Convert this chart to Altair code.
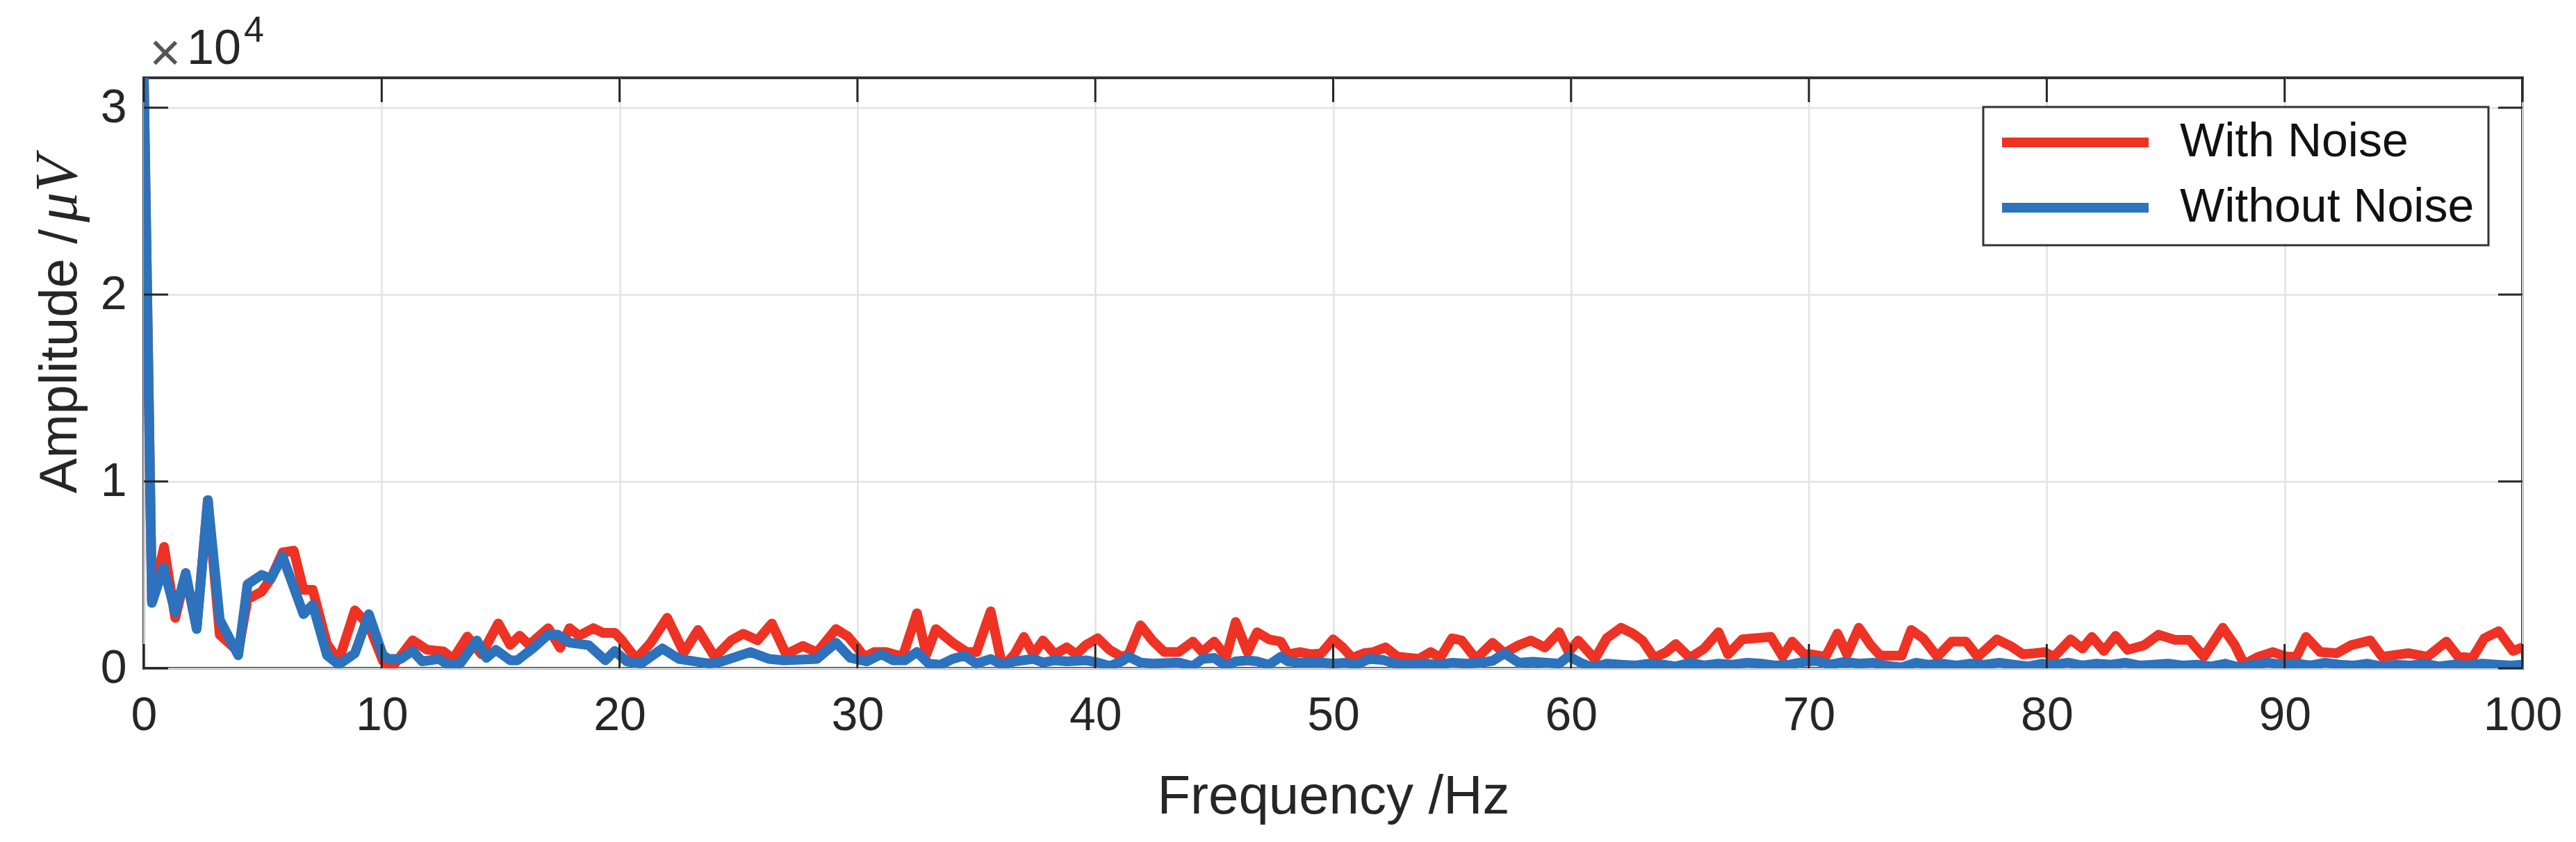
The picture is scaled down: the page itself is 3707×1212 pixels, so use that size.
import altair as alt
import pandas as pd

# ---------------- data ----------------
freq_noise = [0, 0.34, 0.85, 1.32, 1.76, 2.22, 2.69, 3.19, 3.97, 4.36, 4.95, 5.34, 5.83, 6.3, 6.71, 7.1,
              7.7, 8.19, 8.87, 9.46, 10.05, 10.4, 11.3, 11.9, 12.6, 13.0, 13.6, 14.2, 14.9, 15.4, 15.8,
              16.2, 17.0, 17.5, 17.9, 18.3, 18.9, 19.3, 19.8, 20.1, 20.7, 21.3, 22.0, 22.7, 23.3, 24.0,
              24.7, 25.2, 25.8, 26.4, 27.0, 27.7, 28.3, 29.1, 29.6, 30.0, 30.3, 30.7, 31.2, 31.9, 32.5,
              32.9, 33.3, 34.0, 34.6, 35.0, 35.6, 36.1, 36.6, 37.0, 37.4, 37.8, 38.3, 38.8, 39.2, 39.6,
              40.1, 40.6, 41.1, 41.4, 41.9, 42.4, 42.9, 43.5, 44.1, 44.5, 45.0, 45.5, 45.9, 46.4, 46.8,
              47.3, 47.8, 48.1, 48.6, 49.1, 49.5, 50.0, 50.4, 50.8, 51.3, 51.7, 52.2, 52.7, 53.2, 53.6,
              54.1, 54.5, 55.0, 55.4, 56.0, 56.7, 57.2, 57.8, 58.3, 58.9, 59.5, 59.9, 60.3, 61.0, 61.5,
              62.1, 62.6, 63.0, 63.5, 64.0, 64.4, 65.0, 65.6, 66.2, 66.6, 67.2, 68.4, 68.9, 69.3, 69.8,
              70.1, 70.7, 71.2, 71.6, 72.1, 72.6, 73.0, 73.9, 74.3, 74.8, 75.4, 76.0, 76.6, 77.1, 77.9,
              78.5, 79.0, 79.5, 79.9, 80.3, 81.0, 81.5, 81.9, 82.4, 82.9, 83.4, 84.1, 84.7, 85.4, 86.0,
              86.6, 87.4, 87.9, 88.3, 88.9, 89.5, 90.1, 90.5, 90.9, 91.5, 92.2, 92.8, 93.6, 94.1, 95.2,
              96.0, 96.8, 97.3, 97.9, 98.4, 99.0, 99.6, 100]
amp_noise = [31600, 3600, 6500, 2700, 5000, 2200, 9000, 1800, 900, 3700, 4100, 4800, 6200, 6300, 4200, 4200,
             1300, 400, 3100, 2300, 400, 0, 1500, 1000, 900, 500, 1700, 750, 2400, 1250, 1750,
             1250, 2150, 1100, 2150, 1750, 2150, 1900, 1900, 1500, 500, 1350, 2700, 850, 2050, 600,
             1500, 1850, 1500, 2400, 750, 1200, 850, 2100, 1700, 1100, 600, 870, 870, 620, 2950,
             750, 2100, 1370, 870, 870, 3050, 50, 750, 1680, 750, 1490, 750, 1120, 750, 1240,
             1610, 990, 620, 750, 2300, 1490, 870, 870, 1430, 870, 1430, 620, 2480, 870, 1930,
             1550, 1430, 750, 870, 750, 800, 1550, 1120, 560, 810, 870, 1120, 620, 560, 500,
             870, 560, 1610, 1490, 500, 1370, 810, 1240, 1490, 1120, 1930, 870, 1490, 500, 1610,
             2170, 1860, 1490, 560, 870, 1300, 560, 1060, 1930, 750, 1550, 1680, 620, 1430, 750,
             750, 620, 1860, 750, 2170, 1240, 680, 680, 2050, 1610, 620, 1430, 1430, 620, 1550,
             1180, 750, 810, 870, 620, 1550, 1060, 1680, 930, 1740, 990, 1240, 1800, 1520, 1520,
             620, 2170, 1250, 220, 620, 870, 620, 620, 1680, 870, 810, 1240, 1490, 620, 810,
             620, 1430, 620, 560, 1610, 1990, 930, 1120]

freq_clean = [0, 0.34, 0.83, 1.32, 1.76, 2.22, 2.69, 3.19, 3.97, 4.36, 4.95, 5.34, 5.83, 6.71, 7.1, 7.7,
              8.19, 8.87, 9.46, 10.05, 10.3, 10.8, 11.3, 11.7, 12.4, 12.8, 13.3, 14.0, 14.4, 14.8, 15.4,
              15.7, 16.4, 17.0, 17.4, 17.9, 18.7, 19.4, 19.8, 20.3, 20.9, 21.8, 22.5, 23.8, 24.3, 25.5,
              26.3, 26.9, 28.3, 29.1, 29.7, 30.4, 31.0, 31.5, 32.0, 32.5, 33.0, 33.5, 34.0, 34.5, 35.0,
              35.6, 36.1, 36.6, 37.4, 37.8, 38.3, 38.8, 39.6, 40.1, 40.6, 41.1, 41.4, 41.9, 42.4, 43.5,
              44.1, 44.5, 45.0, 45.5, 45.9, 46.4, 46.8, 47.3, 47.8, 48.1, 48.6, 49.5, 50.0, 50.5, 51.0,
              51.5, 52.1, 52.6, 53.2, 53.8, 54.4, 55.0, 55.6, 56.2, 56.7, 57.2, 57.8, 58.4, 59.0, 59.5,
              59.9, 60.4, 60.9, 61.5, 62.1, 62.7, 63.3, 63.9, 64.4, 65.0, 65.6, 66.2, 66.8, 67.4, 68.0,
              68.6, 69.2, 69.8, 70.3, 70.9, 71.5, 72.1, 72.7, 73.2, 73.9, 74.5, 75.0, 75.6, 76.2, 76.8,
              77.4, 78.0, 78.6, 79.2, 79.8, 80.3, 80.9, 81.5, 82.1, 82.7, 83.3, 83.9, 84.5, 85.1, 85.7,
              86.3, 86.9, 87.5, 88.1, 88.7, 89.3, 89.9, 90.5, 91.1, 91.7, 92.3, 92.9, 93.5, 94.1, 94.7,
              95.3, 95.9, 96.5, 97.1, 97.7, 98.3, 98.9, 99.5, 100]
amp_clean = [31600, 3500, 5400, 3000, 5100, 2100, 9000, 2600, 700, 4500, 5000, 4800, 6000, 2900, 3400, 700,
             200, 800, 2900, 700, 500, 500, 930, 370, 500, 190, 250, 1490, 560, 990, 430,
             430, 1120, 1800, 1800, 1370, 1240, 430, 930, 370, 250, 1060, 500, 250, 370, 870,
             500, 430, 500, 1370, 560, 370, 750, 430, 430, 870, 250, 190, 500, 680, 250,
             500, 190, 370, 500, 310, 430, 370, 430, 310, 120, 370, 620, 310, 250, 310,
             120, 500, 560, 120, 370, 430, 370, 190, 620, 370, 310, 310, 250, 300, 200,
             500, 450, 250, 200, 250, 200, 300, 250, 300, 400, 800, 300, 350, 300, 250,
             650, 300, 50, 250, 200, 150, 250, 200, 100, 300, 150, 250, 200, 300, 250,
             150, 200, 350, 400, 200, 350, 250, 300, 150, 50, 300, 200, 250, 150, 250,
             200, 300, 200, 100, 250, 200, 300, 150, 250, 200, 300, 150, 200, 250, 150,
             200, 100, 250, 50, 200, 300, 200, 250, 150, 300, 200, 150, 250, 100, 200,
             150, 250, 100, 200, 150, 250, 200, 150, 200]

series_names = ["With Noise", "Without Noise"]
series_colors = ["#EE3224", "#2C72BC"]
x_ticks = [0, 10, 20, 30, 40, 50, 60, 70, 80, 90, 100]
y_ticks = [0, 10000, 20000, 30000]
x_title = "Frequency /Hz"
y_title_main = "Amplitude /"
y_title_unit = "μV"
exp_times = "×"
exp_base = "10"
exp_power = "4"

# ---------------- styling ----------------
FONT = "Liberation Sans"
SERIF = "Liberation Serif"
TXT = "#262626"
W, H = 3423, 850
TICK = 35
LW = 14

df_noise = pd.DataFrame({"f": freq_noise, "a": amp_noise, "s": series_names[0]})
df_clean = pd.DataFrame({"f": freq_clean, "a": amp_clean, "s": series_names[1]})
df_xt = pd.DataFrame({"f": x_ticks})
df_yt = pd.DataFrame({"a": y_ticks})

xs = alt.Scale(domain=[0, 100], nice=False, zero=False)
ys = alt.Scale(domain=[0, 31600], nice=False)

x_axis = alt.Axis(values=x_ticks, format="d", tickSize=0, domain=False, labelFlush=False,
                  grid=True, gridColor="#E2E2E2", gridWidth=2.5,
                  labelFontSize=68, labelFont=FONT, labelColor=TXT, labelPadding=34,
                  titleFontSize=78, titleFont=FONT, titleColor=TXT, titleFontWeight="normal",
                  titlePadding=44)
y_axis = alt.Axis(values=y_ticks, labelExpr="format(datum.value / 10000, 'd')",
                  tickSize=0, domain=False, grid=True, gridColor="#E2E2E2", gridWidth=2.5,
                  labelFlush=False,
                  labelFontSize=68, labelFont=FONT, labelColor=TXT, labelPadding=25)
x_enc = alt.X("f:Q", scale=xs, title=x_title, axis=x_axis)
y_enc = alt.Y("a:Q", scale=ys, title=None, axis=y_axis)

color_enc = alt.Color("s:N", scale=alt.Scale(domain=series_names, range=series_colors),
                      legend=alt.Legend(title=None, orient="none", legendX=2647, legendY=42,
                                        symbolType="stroke", symbolSize=44500, symbolStrokeWidth=LW,
                                        clipHeight=62,
                                        labelFontSize=68, labelFont=FONT, labelColor="#111111",
                                        labelLimit=2000, labelOffset=38, padding=20, rowPadding=26,
                                        fillColor="white"))

red = alt.Chart(df_noise).mark_line(strokeWidth=LW, strokeJoin="round", clip=True).encode(
    x=x_enc, y=y_enc, color=color_enc)
blue = alt.Chart(df_clean).mark_line(strokeWidth=LW, strokeJoin="round", clip=True).encode(
    x=x_enc, y=y_enc, color=color_enc)

tick_style = dict(color=TXT, strokeWidth=3)
xt_bottom = alt.Chart(df_xt).mark_rule(**tick_style).encode(
    x=x_enc, y=alt.value(H), y2=alt.value(H - TICK))
xt_top = alt.Chart(df_xt).mark_rule(**tick_style).encode(
    x=x_enc, y=alt.value(0), y2=alt.value(TICK))
yt_left = alt.Chart(df_yt).mark_rule(**tick_style).encode(
    y=y_enc, x=alt.value(0), x2=alt.value(TICK))
yt_right = alt.Chart(df_yt).mark_rule(**tick_style).encode(
    y=y_enc, x=alt.value(W), x2=alt.value(W - TICK))

# y-axis title: upright sans part + italic serif unit (as in the reference)
yt_main = alt.Chart(pd.DataFrame({"t": [y_title_main]})).mark_text(
    angle=270, align="right", baseline="alphabetic", font=FONT, fontSize=76, color=TXT
).encode(text="t:N", x=alt.value(-97), y=alt.value(218))
yt_unit = alt.Chart(pd.DataFrame({"t": [y_title_unit]})).mark_text(
    angle=270, align="left", baseline="alphabetic", font=SERIF, fontStyle="italic",
    fontSize=86, color=TXT
).encode(text="t:N", x=alt.value(-97), y=alt.value(208))

# exponent label above the y axis
exp_x = alt.Chart(pd.DataFrame({"t": [exp_times]})).mark_text(
    align="left", baseline="alphabetic", font=FONT, fontSize=78, color="#555555"
).encode(text="t:N", x=alt.value(8), y=alt.value(-10))
exp_a = alt.Chart(pd.DataFrame({"t": [exp_base]})).mark_text(
    align="left", baseline="alphabetic", font=FONT, fontSize=70, color=TXT
).encode(text="t:N", x=alt.value(62), y=alt.value(-20))
exp_b = alt.Chart(pd.DataFrame({"t": [exp_power]})).mark_text(
    align="left", baseline="alphabetic", font=FONT, fontSize=52, color=TXT
).encode(text="t:N", x=alt.value(144), y=alt.value(-52))

chart = alt.layer(red, blue, xt_bottom, xt_top, yt_left, yt_right,
                  yt_main, yt_unit, exp_x, exp_a, exp_b).properties(
    width=W, height=H,
    autosize=alt.AutoSizeParams(type="none"),
    padding={"left": 199, "top": 104, "right": 69, "bottom": 242},
    background="white",
).configure_view(stroke="#333333", strokeWidth=4).configure_legend(
    strokeColor="#333333", strokeWidth=3)

chart.save("out.html", embed_options={"renderer": "svg", "actions": False})
